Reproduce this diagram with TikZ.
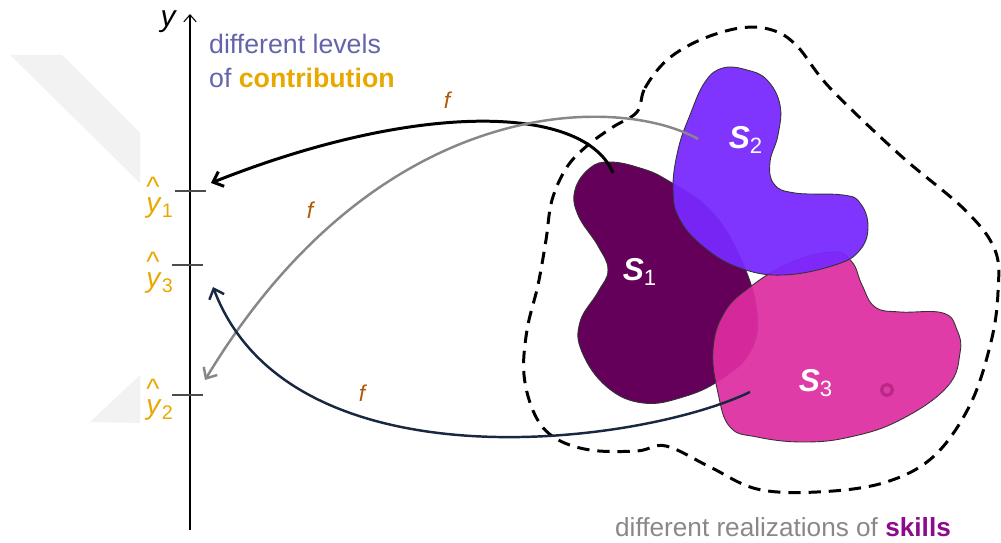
\documentclass[tikz,border=0pt]{standalone}
\usepackage{fontspec}
\setmainfont{Liberation Sans}
\usetikzlibrary{arrows.meta}

\definecolor{levelblue}{RGB}{100,100,170}
\definecolor{contribgold}{RGB}{232,168,0}
\definecolor{fbrown}{RGB}{176,90,10}
\definecolor{skilldark}{RGB}{100,0,90}
\definecolor{skillviolet}{RGB}{120,40,255}
\definecolor{skillpink}{RGB}{222,45,160}
\definecolor{skilltext}{RGB}{140,10,140}
\definecolor{arrownavy}{RGB}{25,40,65}
\definecolor{realizgray}{RGB}{136,136,136}

\tikzset{
  blob/.style={draw=black!80,line width=0.5pt},
  fmap/.style={line width=1.4pt,-{Straight Barb[length=5pt,width=9pt]}},
  flabel/.style={text=fbrown,font=\fontsize{13}{15}\selectfont\itshape},
  hatmark/.style={text=contribgold,anchor=base,inner sep=0pt,font=\fontsize{16}{17}\selectfont},
  yhat/.style={text=contribgold,anchor=base west,inner sep=0pt,font=\fontsize{16}{17}\selectfont},
  skillname/.style={text=white,font=\fontsize{18}{20}\selectfont\bfseries\itshape},
  tick/.style={draw=black!70,line width=0.7pt}
}

\begin{document}
\begin{tikzpicture}[x=0.02cm,y=-0.02cm]
	\useasboundingbox (0,0) rectangle (1001,543);
	% faint background marks
	\fill[black!5] (10,55) -- (62,55) -- (140,133) -- (140,183) -- cycle;
	\fill[black!5] (90,422) -- (140,375) -- (140,423) -- cycle;

	% axis
	\coordinate (axisbot) at (190,530);
	\coordinate (axistop) at (190,14);
	\draw[line width=0.6pt,-{Straight Barb[length=4pt,width=7pt]}] (axisbot) -- (axistop);
	\node[font=\fontsize{17}{19}\selectfont\itshape] (ylab) at (168,22) {y};
	\draw[tick] (175,191) -- (206,191);
	\draw[tick] (172,265) -- (203,265);
	\draw[tick] (172,395) -- (203,395);
	\node[hatmark] (hat1) at (153,197) {\textasciicircum};
	\node[yhat] (yhat1) at (146,213) {\textit{y}\textsubscript{1}};
	\node[hatmark] (hat3) at (153,272) {\textasciicircum};
	\node[yhat] (yhat3) at (146,288) {\textit{y}\textsubscript{3}};
	\node[hatmark] (hat2) at (153,399) {\textasciicircum};
	\node[yhat] (yhat2) at (146,415) {\textit{y}\textsubscript{2}};

	\node[anchor=west,align=left,text=levelblue,font=\fontsize{15.2}{19}\selectfont] (levels) at (203,61)
		{different levels\\of \textcolor{contribgold}{\bfseries contribution}};

	% set of realizations
	\draw[line width=1.7pt,dash pattern=on 7pt off 4.5pt] plot[smooth cycle,tension=0.6] coordinates {
		(637,112) (645,88) (667,60) (700,40) (740,28) (772,30) (797,46) (830,88) (900,155)
		(965,210) (995,250) (998,292) (991,342) (970,405) (933,457) (883,483) (817,492)
		(757,489) (710,467) (666,446) (637,451) (590,450) (555,438) (535,415) (524,375)
		(527,330) (538,285) (546,240) (552,200) (567,167) (588,145) (613,127)};

	% skills
	\fill[skilldark,blob] plot[smooth cycle,tension=0.7] coordinates {
		(610,162) (640,168) (667,180) (710,210) (740,257) (757,312) (750,352) (720,380)
		(683,397) (643,403) (607,387) (582,352) (580,322) (598,292) (608,270) (598,246)
		(578,215) (575,190) (590,168)};
	\fill[skillpink,fill opacity=0.93,blob] plot[smooth cycle,tension=0.7] coordinates {
		(833,252) (852,262) (862,285) (875,307) (900,312) (943,313) (957,330) (960,353)
		(947,387) (900,420) (850,437) (803,442) (757,437) (730,427) (718,393) (713,350)
		(724,313) (750,287) (790,263)};
	\fill[skillviolet,fill opacity=0.94,blob] plot[smooth cycle,tension=0.7] coordinates {
		(723,68) (747,70) (767,80) (780,105) (778,135) (770,162) (774,184) (795,193)
		(843,195) (860,203) (868,226) (860,250) (835,265) (783,275) (740,268) (705,248)
		(680,220) (673,190) (678,150) (690,115) (705,82)};
	\draw[skillpink!75!black,line width=1.8pt,opacity=0.7] (887,390) circle (5.5);

	\node[skillname] (s1) at (640,272) {S\textsubscript{\normalfont 1}};
	\node[skillname] (s2) at (746,140) {S\textsubscript{\normalfont 2}};
	\node[skillname] (s3) at (816,383) {S\textsubscript{\normalfont 3}};

	% mappings f
	\coordinate (s1out) at (613,173);
	\coordinate (s2out) at (698,139);
	\coordinate (s3out) at (750,392);
	\coordinate (y1in) at (211,183);
	\coordinate (y2in) at (205,380);
	\coordinate (y3in) at (213,287);
	\draw[fmap,line width=1.7pt,black] (s1out) .. controls (585,105) and (420,100) .. (y1in);
	\draw[fmap,black!47] (s2out) .. controls (620,95) and (380,90) .. (y2in);
	\draw[fmap,arrownavy] (s3out) .. controls (640,445) and (290,490) .. (y3in);
	\node[flabel] (f1) at (447,100) {f};
	\node[flabel] (f2) at (310,210) {f};
	\node[flabel] (f3) at (362,393) {f};

	\node[text=realizgray,font=\fontsize{14.9}{17}\selectfont] (realiz) at (783,527)
		{different realizations of \textcolor{skilltext}{\bfseries skills}};
\end{tikzpicture}
\end{document}
